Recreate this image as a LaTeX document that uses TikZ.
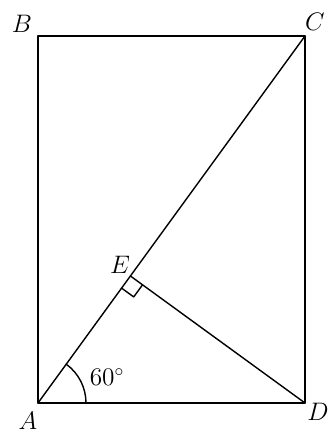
\documentclass[tikz,border=0pt]{standalone}
\usepackage{amsmath,amssymb}
\usepackage{tikz}
\usetikzlibrary{calc,angles}
\usepackage{xcolor}

\begin{document}
\begin{tikzpicture}[font=\Large,line cap=round,line join=round,line width=0.8pt]
\useasboundingbox (0,0) rectangle (6.6,8.66);
\coordinate (A) at (0.76,0.60);
\coordinate (B) at (0.76,7.94);
\coordinate (C) at (6.10,7.94);
\coordinate (D) at (6.10,0.60);
\coordinate (E) at ($(A)!(D)!(C)$);
\draw (A) -- (B) -- (C) -- (D) -- cycle;
\draw (A) -- (C);
\draw (E) -- (D);
\draw ($(E)!0.3cm!(A)$) -- ($(E)!0.3cm!(A)!0.3cm!90:(A)$) -- ($(E)!0.3cm!(D)$);
\pic[draw,angle radius=0.96cm] {angle=D--A--C};
\node (lA) at (0.56,0.24) {$A$};
\node (lB) at (0.44,8.18) {$B$};
\node (lC) at (6.30,8.22) {$C$};
\node (lD) at (6.36,0.42) {$D$};
\node (lE) at (2.40,3.36) {$E$};
\node (l60) at (2.14,1.12) {$60^\circ$};
\end{tikzpicture}
\end{document}
